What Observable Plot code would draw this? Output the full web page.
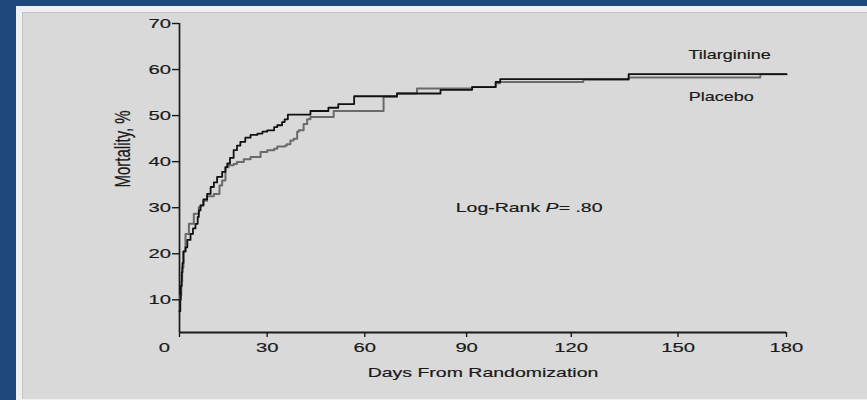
<!DOCTYPE html>
<html>
<head>
<meta charset="utf-8">
<script src="https://cdn.jsdelivr.net/npm/d3@7"></script>
<script src="https://cdn.jsdelivr.net/npm/@observablehq/plot@0.6"></script>
<style>
  html, body { margin: 0; padding: 0; background: #1f497d; }
  #stage { position: relative; width: 867px; height: 400px; overflow: hidden; }
  #frame { position: absolute; left: 16px; top: 6px; right: 0; bottom: 0; background: #eef0f2; }
  #panel { position: absolute; left: 22px; top: 12px; right: 0; bottom: 1px; background: #d9d9d9;
           border-left: 1px solid #c4c4c4; border-top: 1px solid #c4c4c4; }
  #chart { position: absolute; left: 0; top: 0; }
</style>
</head>
<body>
<div id="stage">
  <div id="frame"></div>
  <div id="panel"></div>
  <div id="chart"></div>
</div>
<script>
// Kaplan-Meier cumulative mortality (%) by days from randomization
const tilDays = [0, 0.3, 0.6, 1.0, 1.3, 1.7, 2.5, 3.2, 4.4, 5.3, 6.2, 7.0, 7.4, 8.0, 9.0, 10.3,
  11.5, 12.6, 13.7, 15.4, 16.5, 17.1, 18.0, 19.2, 20.3, 21.4, 23.0, 24.7, 26.9, 28.5, 30.0,
  32.2, 33.2, 34.7, 35.5, 36.5, 43.5, 49.0, 52.0, 56.8, 69.6, 82.4, 91.6, 98.4, 99.7, 136.2, 180];
const tilPct = [7.5, 10, 13, 16, 18, 20.5, 21.4, 23, 24.3, 25.5, 26.5, 28, 29.4, 30.5, 31.8, 33,
  34.5, 35.5, 36.7, 37.8, 38.8, 39.6, 40.8, 42.5, 43.5, 44.3, 45.2, 45.8, 46.1, 46.5, 46.8,
  47.5, 47.9, 48.6, 49.2, 50.2, 51.0, 51.7, 52.5, 54.2, 54.8, 55.6, 56.2, 57.3, 57.9, 59.0, 59.0];

const plaDays = [0, 0.4, 0.8, 1.2, 1.7, 2.5, 3.8, 5.6, 7.4, 8.0, 9.0, 10.3, 12.6, 14.5, 15.4,
  16.5, 17.5, 19.2, 20.3, 22.5, 24.7, 27.9, 30.0, 32.2, 33.2, 35.7, 36.2, 37.3, 38.3, 39.4,
  39.9, 41.4, 42.5, 43.5, 50.6, 65.6, 69.6, 75.5, 91.6, 98.4, 99.7, 123.4, 136.2, 172.8, 180];
const plaPct = [7.5, 11, 14, 17, 20.5, 24.3, 26.5, 28.7, 30.1, 30.5, 31.5, 32.5, 33.0, 34.8, 35.9,
  38.8, 39.2, 39.5, 39.9, 40.5, 41.0, 42.1, 42.5, 42.8, 43.3, 43.5, 43.8, 44.6, 45.0, 46.5,
  46.8, 48.2, 49.2, 49.7, 51.0, 54.1, 54.8, 55.9, 56.2, 57.0, 57.3, 57.8, 58.3, 59.0, 59.0];

const xTicks = [0, 30, 60, 90, 120, 150, 180];
const yTicks = [10, 20, 30, 40, 50, 60, 70];
const yMin = 2.9;

const tilarginine = tilDays.map((d, i) => ({day: d, pct: tilPct[i]}));
const placebo = plaDays.map((d, i) => ({day: d, pct: plaPct[i]}));

const ink = "#1a1a1a";

const chart = Plot.plot({
  width: 867,
  height: 400,
  marginLeft: 179,
  marginRight: 81,
  marginTop: 23,
  marginBottom: 68,
  style: {background: "transparent", fontFamily: "'Liberation Sans', Arial, sans-serif", fontSize: "13.5px", color: ink},
  x: {type: "pow", exponent: 1.08, domain: [0, 180]},
  y: {domain: [yMin, 70]},
  marks: [
    // axis lines
    Plot.ruleX([0], {y1: yMin, y2: 70, stroke: ink, strokeWidth: 1.7}),
    Plot.ruleY([yMin], {x1: 0, x2: 180, stroke: ink, strokeWidth: 1.9}),
    Plot.axisY({ticks: yTicks, tickSize: 7, tickPadding: 1.5, label: null, strokeWidth: 1.4, fill: ink}),
    Plot.axisX({ticks: xTicks, tickSize: 5, tickPadding: 5, label: null, strokeWidth: 1.4, fill: ink,
      tickFormat: d => d === 0 ? "" : String(d)}),
    Plot.axisX({ticks: [0], tickSize: 0, tickPadding: 10, dx: -15, label: null, fill: ink}),
    // survival curves
    Plot.line(placebo, {x: "day", y: "pct", curve: "step-after", stroke: "#6a6a6a", strokeWidth: 2}),
    Plot.line(tilarginine, {x: "day", y: "pct", curve: "step-after", stroke: "#111", strokeWidth: 1.8}),
    // annotations
    Plot.text(["Tilarginine"], {x: 164.3, y: 63.1, fontSize: 12, fill: ink}),
    Plot.text(["Placebo"], {x: 162, y: 54.0, fontSize: 12, fill: ink}),
    Plot.text(["Log-Rank P= .80"], {x: 108, y: 29.9, fontSize: 13, fill: ink}),
    Plot.text(["Mortality, %"], {frameAnchor: "left", dx: -57, dy: 9.5, rotate: -90, fontSize: 15, fill: ink}),
    Plot.text(["Days From Randomization"], {frameAnchor: "bottom", dy: 40, lineAnchor: "middle", fontSize: 13, fill: ink})
  ]
});

// wide lettering: stretch every label horizontally about its anchor
const stretch = 1.5;
chart.querySelectorAll("text").forEach(el => {
  const t = el.getAttribute("transform");
  if (t && /^translate\([^)]*\)/.test(t)) {
    el.setAttribute("transform", t.replace(/^(translate\([^)]*\))/, `$1 scale(${stretch},1)`));
  } else {
    const x = +(el.getAttribute("x") || 0), y = +(el.getAttribute("y") || 0);
    el.removeAttribute("x"); el.removeAttribute("y");
    el.setAttribute("transform", `translate(${x},${y}) scale(${stretch},1)${t ? " " + t : ""}`);
  }
  el.setAttribute("stroke", ink);
  el.setAttribute("stroke-width", "0.18");
  // italic P in the log-rank statistic
  if (el.textContent === "Log-Rank P= .80") {
    el.textContent = "";
    const ns = "http://www.w3.org/2000/svg";
    el.appendChild(document.createTextNode("Log-Rank "));
    const p = document.createElementNS(ns, "tspan");
    p.setAttribute("font-style", "italic");
    p.textContent = "P";
    el.appendChild(p);
    el.appendChild(document.createTextNode("= .80"));
  }
});

document.getElementById("chart").appendChild(chart);
</script>
</body>
</html>
